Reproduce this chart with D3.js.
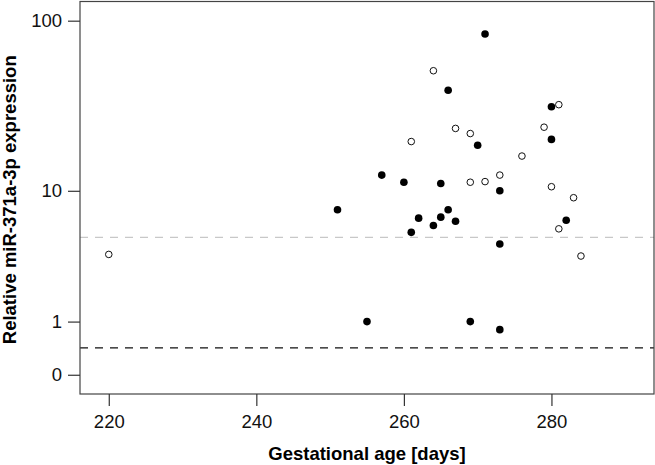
<!DOCTYPE html>
<html lang="en">
<head>
<meta charset="UTF-8">
<title>miR-371a-3p vs gestational age</title>
<script src="https://d3js.org/d3.v7.min.js"></script>
<style>
  body { margin: 0; background: #fff; }
  svg { font-family: "Liberation Sans", Arial, sans-serif; }
</style>
</head>
<body>
<div id="chart"></div>
<script>
// filled points
var filledDays = [266, 271, 270, 280, 280, 257, 260, 265, 273, 251, 266, 262, 265, 267, 264, 261, 282, 273, 255, 269, 273];
var filledExpr = [39.8, 83.9, 18.9, 31.9, 20.5, 12.5, 11.3, 11.1, 10.0, 7.6, 7.6, 6.7, 6.8, 6.4, 6.0, 5.4, 6.5, 4.5, 1.0, 1.0, 0.8];
// open points
var openDays = [220, 264, 267, 269, 261, 281, 279, 276, 269, 271, 273, 280, 283, 281, 284];
var openExpr = [3.8, 51.6, 23.8, 22.2, 19.9, 32.8, 24.2, 16.3, 11.3, 11.4, 12.5, 10.6, 9.05, 5.7, 3.7];
// reference lines
var refLines = [5.0, 0.42];
var xTicks = [220, 240, 260, 280];
var yTicks = [0, 1, 10, 100];

var W = 655, H = 465;
var plotL = 80, plotR = 654, plotT = 1.5, plotB = 394;

var svg = d3.select("#chart").append("svg")
    .attr("width", W)
    .attr("height", H);

var x = d3.scaleLinear().domain([216.1, 293.9]).range([plotL, plotR]);
// log10(v + 1) style axis: symlog with constant 1
var y = d3.scaleSymlog().constant(1).domain([-0.285, 128.7]).range([plotB, plotT]);

// reference dashed lines
svg.selectAll(".ref")
    .data(refLines)
    .enter().append("line")
    .attr("x1", plotL).attr("x2", plotR)
    .attr("y1", d => y(d)).attr("y2", d => y(d))
    .attr("stroke", (d, i) => i === 0 ? "#c8c8c8" : "#111")
    .attr("stroke-width", 1.3)
    .attr("stroke-dasharray", "8,7");

// box
svg.append("rect")
    .attr("x", plotL).attr("y", plotT)
    .attr("width", plotR - plotL).attr("height", plotB - plotT)
    .attr("fill", "none")
    .attr("stroke", "#444")
    .attr("stroke-width", 1.2);

// axes
var xAxis = svg.append("g")
    .attr("transform", "translate(0," + plotB + ")")
    .call(d3.axisBottom(x).tickValues(xTicks).tickSize(12).tickPadding(9));
var yAxis = svg.append("g")
    .attr("transform", "translate(" + plotL + ",0)")
    .call(d3.axisLeft(y).tickValues(yTicks).tickFormat(d3.format("d")).tickSize(12).tickPadding(6));

[xAxis, yAxis].forEach(function(g) {
    g.select(".domain").remove();
    g.selectAll(".tick line").attr("stroke", "#333").attr("stroke-width", 1.2);
    g.selectAll(".tick text").attr("fill", "#111").style("font-size", "18.5px");
});

// points
var filled = filledDays.map((d, i) => ({ day: d, v: filledExpr[i] }));
var open = openDays.map((d, i) => ({ day: d, v: openExpr[i] }));

svg.selectAll(".open")
    .data(open)
    .enter().append("circle")
    .attr("cx", d => x(d.day))
    .attr("cy", d => y(d.v))
    .attr("r", 3.3)
    .attr("fill", "#fff")
    .attr("stroke", "#111")
    .attr("stroke-width", 1);

svg.selectAll(".filled")
    .data(filled)
    .enter().append("circle")
    .attr("cx", d => x(d.day))
    .attr("cy", d => y(d.v))
    .attr("r", 3.8)
    .attr("fill", "#000");

// titles
svg.append("text")
    .attr("x", (plotL + plotR) / 2)
    .attr("y", 460)
    .attr("text-anchor", "middle")
    .style("font-size", "18.5px")
    .style("font-weight", "bold")
    .text("Gestational age [days]");

svg.append("text")
    .attr("transform", "translate(16," + ((plotT + plotB) / 2 + 2) + ") rotate(-90)")
    .attr("text-anchor", "middle")
    .style("font-size", "18.5px")
    .style("font-weight", "bold")
    .text("Relative miR-371a-3p expression");
</script>
</body>
</html>
